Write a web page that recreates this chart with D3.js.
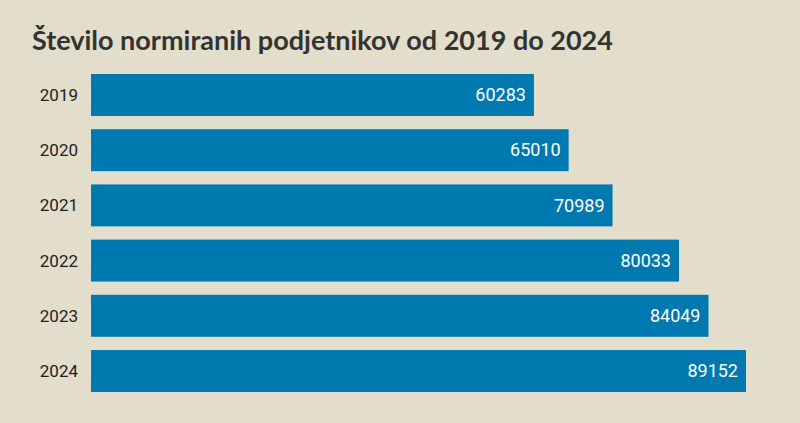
<!DOCTYPE html>
<html><head><meta charset="utf-8">
<script src="https://cdn.jsdelivr.net/npm/d3@7"></script>
<style>body{margin:0;background:#e3ddcb;}svg{display:block}</style>
</head><body>
<script>
const years = ["2019","2020","2021","2022","2023","2024"];
const values = [60283,65010,70989,80033,84049,89152];
const title = "Število normiranih podjetnikov od 2019 do 2024";

const W=800,H=423;
const svg=d3.select("body").append("svg").attr("width",W).attr("height",H);
svg.append("rect").attr("width",W).attr("height",H).attr("fill","#e3ddcb");
svg.append("text").attr("x",32).attr("y",50).text(title)
  .attr("font-family","Lato, 'Open Sans', sans-serif").attr("font-weight","bold")
  .attr("font-size",27).attr("fill","#333");
const x=d3.scaleLinear().domain([0,d3.max(values)]).range([91,746]);
const y=d3.scaleBand().domain(years).range([74,392]).paddingInner(0.24).paddingOuter(0);
const data=years.map((yr,i)=>({yr,v:values[i]}));
svg.selectAll("rect.bar").data(data).join("rect").attr("class","bar")
  .attr("x",x(0)).attr("y",d=>y(d.yr)).attr("width",d=>x(d.v)-x(0)).attr("height",y.bandwidth())
  .attr("fill","#0079b1");
svg.selectAll("text.yr").data(data).join("text").attr("class","yr")
  .attr("x",78).attr("y",d=>y(d.yr)+y.bandwidth()/2).attr("dy","0.35em")
  .attr("text-anchor","end").attr("font-family","Roboto, sans-serif").attr("font-size",17)
  .attr("fill","#222").text(d=>d.yr);
svg.selectAll("text.val").data(data).join("text").attr("class","val")
  .attr("x",d=>x(d.v)-8).attr("y",d=>y(d.yr)+y.bandwidth()/2).attr("dy","0.35em")
  .attr("text-anchor","end").attr("font-family","Roboto, sans-serif").attr("font-size",18)
  .attr("fill","#fff").text(d=>d.v);
</script>
</body></html>
